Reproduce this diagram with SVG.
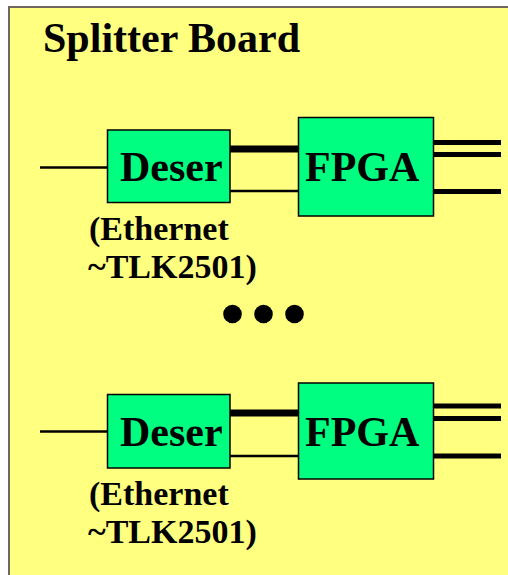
<svg xmlns="http://www.w3.org/2000/svg" width="508" height="575" viewBox="0 0 508 575">
<style>
.box{fill:#00FF80;stroke:#000;stroke-width:1.5}
.lbl{font-family:"Liberation Serif","Times New Roman",serif;font-weight:bold;fill:#000}
.big{font-size:42px}
.sm{font-size:34px}
.thin{stroke:#000;stroke-width:2.5;fill:none}
.thick{stroke:#000;stroke-width:7;fill:none}
.out{stroke:#000;stroke-width:5;fill:none}
</style>
<rect x="9" y="7" width="510" height="580" fill="#FFFF80" stroke="#706860" stroke-width="2"/>
<text class="lbl big" x="43" y="52">Splitter Board</text>
<g id="connectors">
<line class="thin" x1="40" y1="167.5" x2="108" y2="167.5"/>
<line class="thick" x1="230" y1="149" x2="299" y2="149"/>
<line class="thin" x1="230" y1="191" x2="299" y2="191"/>
<line class="out" x1="433" y1="142.5" x2="501" y2="142.5"/>
<line class="out" x1="433" y1="154.5" x2="501" y2="154.5"/>
<line class="out" x1="433" y1="191.5" x2="501" y2="191.5"/>
<line class="thin" x1="40" y1="431.5" x2="108" y2="431.5"/>
<line class="thick" x1="230" y1="413" x2="299" y2="413"/>
<line class="thin" x1="230" y1="456" x2="299" y2="456"/>
<line class="out" x1="433" y1="406" x2="501" y2="406"/>
<line class="out" x1="433" y1="418.5" x2="501" y2="418.5"/>
<line class="out" x1="433" y1="456" x2="501" y2="456"/>
</g>
<g id="deser1">
<rect class="box" x="107.5" y="130" width="122.5" height="72.5"/>
<text class="lbl big" x="120" y="181">Deser</text>
</g>
<g id="fpga1">
<rect class="box" x="298.5" y="117.5" width="135" height="98.5"/>
<text class="lbl big" x="305" y="181">FPGA</text>
</g>
<g id="label1">
<text class="lbl sm" x="89" y="239.5">(Ethernet</text>
<text class="lbl sm" x="88" y="277.5">~TLK2501)</text>
</g>
<g id="dots">
<circle cx="232.5" cy="314" r="9.3"/>
<circle cx="263.5" cy="314" r="9.3"/>
<circle cx="294.5" cy="314" r="9.3"/>
</g>
<g id="deser2">
<rect class="box" x="107.5" y="394.5" width="122.5" height="73.5"/>
<text class="lbl big" x="120" y="445.5">Deser</text>
</g>
<g id="fpga2">
<rect class="box" x="298.5" y="383" width="135" height="96"/>
<text class="lbl big" x="305" y="445.5">FPGA</text>
</g>
<g id="label2">
<text class="lbl sm" x="89" y="505">(Ethernet</text>
<text class="lbl sm" x="88" y="543">~TLK2501)</text>
</g>
</svg>
